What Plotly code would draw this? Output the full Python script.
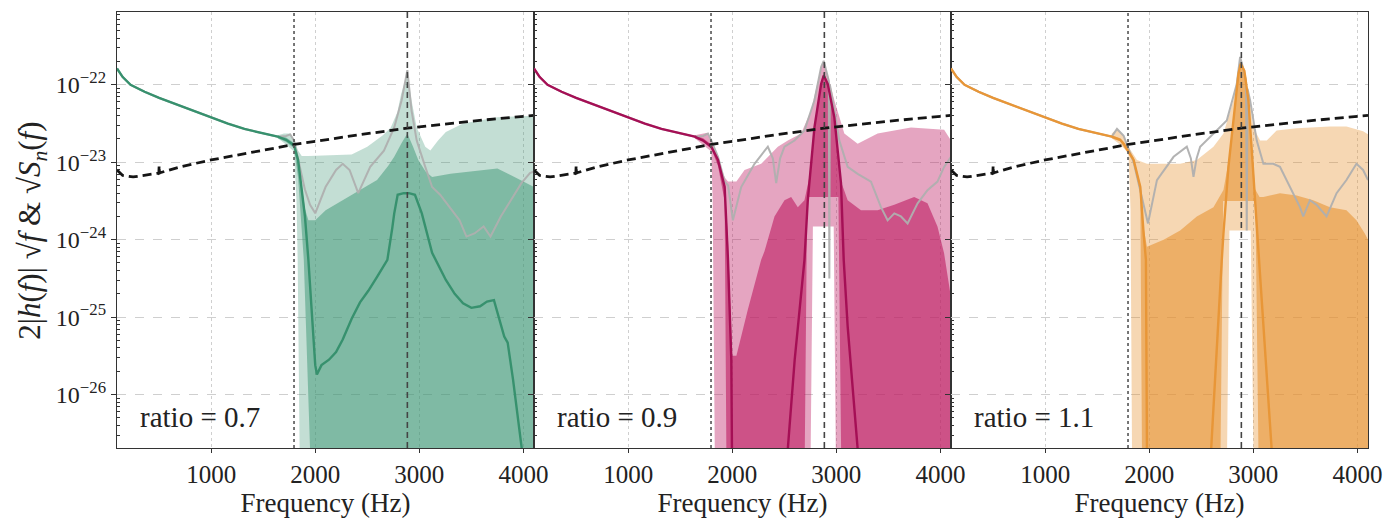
import numpy as np
import plotly.graph_objects as go
from plotly.subplots import make_subplots

# ---------------- data (log10 of amplitude) ----------------
x_ticks = [1000, 2000, 3000, 4000]
y_tick_exps = [-26, -25, -24, -23, -22]
ratio_labels = ["ratio = 0.7", "ratio = 0.9", "ratio = 1.1"]
f_low_marker = 1796
f_peak_marker = 2885

# detector noise curve sqrt(Sn)
noise_f = [95, 150, 250, 400, 490, 497, 500, 503, 510, 700, 1000, 1400, 1800, 2400, 2885, 3500, 4102]
noise_lg = [-23.10, -23.17, -23.19, -23.16, -23.14, -23.14, -23.04, -23.14, -23.135, -23.06,
            -22.97, -22.87, -22.77, -22.65, -22.56, -22.47, -22.395]

# shared low-frequency part of the signal curves
low_f = [95, 150, 225, 360, 500, 680, 850, 1000, 1160, 1320, 1480, 1640]
low_lg = [-21.79, -21.90, -22.00, -22.09, -22.17, -22.26, -22.35, -22.42, -22.50, -22.57, -22.62, -22.67]

# ---- panel 1 (ratio 0.7, green)
g_line_f = [1720, 1796, 1835, 1901, 1934, 1970, 2000, 2016, 2060, 2132, 2200, 2264, 2350, 2430, 2510,
            2594, 2693, 2740, 2759, 2792, 2850, 2900, 2958, 3024, 3123, 3255, 3340, 3420, 3500, 3584,
            3650, 3717, 3770, 3816, 3849, 3900, 3981, 4030, 4102]
g_line_lg = [-22.71, -22.78, -22.97, -23.70, -24.26, -25.00, -25.62, -25.74, -25.62, -25.55, -25.45,
             -25.29, -25.02, -24.81, -24.66, -24.48, -24.26, -23.85, -23.66, -23.42, -23.40, -23.40,
             -23.42, -23.66, -24.17, -24.52, -24.70, -24.82, -24.88, -24.86, -24.80, -24.78, -25.05,
             -25.25, -25.33, -25.80, -26.66, -27.20, -27.90]
g_dark_up_f = [1640, 1720, 1796, 1835, 1870, 1901, 1934, 2000, 2100, 2264, 2430, 2594, 2700, 2759, 2830,
               2885, 2940, 2990, 3060, 3123, 3300, 3500, 3750, 3900, 4102]
g_dark_up_lg = [-22.65, -22.68, -22.75, -22.92, -23.30, -23.60, -23.75, -23.75, -23.62, -23.49, -23.36,
                -23.23, -23.05, -22.93, -22.75, -22.63, -22.80, -22.97, -23.12, -23.19, -23.15, -23.12,
                -23.08, -23.18, -23.32]
g_dark_lo_f = [1640, 1720, 1796, 1835, 1890, 1950, 1965, 4102]
g_dark_lo_lg = [-22.69, -22.74, -22.82, -23.20, -24.26, -26.70, -28.0, -28.0]
g_light_up_f = [1640, 1700, 1760, 1796, 1835, 1870, 1934, 2100, 2350, 2500, 2650, 2726, 2790, 2825, 2885,
                2925, 2975, 3057, 3106, 3180, 3255, 3420, 3750, 4102]
g_light_up_lg = [-22.65, -22.63, -22.63, -22.70, -22.85, -22.92, -22.92, -22.91, -22.90, -22.80, -22.65,
                 -22.55, -22.35, -22.12, -21.85, -22.20, -22.55, -22.80, -22.85, -22.72, -22.61, -22.50,
                 -22.42, -22.40]
g_light_lo_f = [1640, 1720, 1796, 1820, 1831, 1851, 1860, 4102]
g_light_lo_lg = [-22.69, -22.77, -22.86, -23.50, -24.26, -26.70, -28.0, -28.0]
g_gray_f = [1720, 1760, 1796, 1835, 1900, 1950, 2000, 2099, 2200, 2264, 2330, 2413, 2528, 2660, 2759,
            2830, 2885, 2925, 2975, 3057, 3123, 3200, 3300, 3387, 3453, 3530, 3618, 3684, 3783, 3882,
            3981, 4063, 4102]
g_gray_lg = [-22.66, -22.64, -22.72, -22.95, -23.35, -23.55, -23.66, -23.32, -23.10, -23.02, -23.10,
             -23.40, -23.06, -22.85, -22.55, -22.20, -21.81, -22.33, -22.72, -23.06, -23.32, -23.42,
             -23.60, -23.75, -23.96, -23.92, -23.83, -23.96, -23.70, -23.49, -23.27, -23.14, -23.12]

# ---- panel 2 (ratio 0.9, magenta)
p_line_f = [1720, 1799, 1863, 1927, 1959, 1991, 1997, 2020, 2520, 2534, 2600, 2694, 2726, 2790, 2854,
            2879, 2918, 2981, 3045, 3071, 3109, 3205, 3220, 4102]
p_line_lg = [-22.72, -22.80, -22.97, -23.32, -24.26, -25.55, -26.70, -28.0, -28.0, -26.70, -25.55,
             -24.26, -23.49, -22.55, -21.99, -21.88, -21.99, -22.42, -23.27, -24.26, -25.12, -26.70,
             -28.0, -28.0]
p_dark_up_f = [1640, 1720, 1799, 1863, 1927, 1959, 1985, 2000, 2040, 2150, 2278, 2310, 2406, 2502, 2566,
               2630, 2694, 2740, 2790, 2854, 2879, 2918, 2981, 3013, 3045, 3109, 3237, 3397, 3557, 3748,
               3876, 3972, 4036, 4102]
p_dark_up_lg = [-22.65, -22.69, -22.77, -22.93, -23.25, -24.00, -25.00, -25.50, -25.50, -24.90, -24.26,
                -24.15, -23.70, -23.49, -23.45, -23.58, -23.49, -23.20, -22.55, -21.97, -21.84, -21.97,
                -22.40, -22.90, -23.25, -23.49, -23.62, -23.62, -23.55, -23.45, -23.53, -23.83, -24.18,
                -24.75]
p_dark_lo_f = [1640, 1720, 1799, 1863, 1927, 1943, 1950, 2688, 2694, 2720, 3020, 3046, 3052, 4102]
p_dark_lo_lg = [-22.69, -22.73, -22.83, -23.05, -23.50, -26.70, -28.0, -28.0, -26.7, -23.45, -23.45,
                -26.7, -28.0, -28.0]
p_light_up_f = [1640, 1720, 1760, 1799, 1840, 1880, 1930, 1959, 2040, 2118, 2278, 2438, 2534, 2662, 2758,
                2854, 2879, 2918, 2981, 3077, 3205, 3300, 3397, 3717, 4036, 4102]
p_light_up_lg = [-22.65, -22.63, -22.62, -22.74, -22.90, -23.05, -23.20, -23.25, -23.25, -23.10, -23.02,
                 -22.80, -22.72, -22.63, -22.33, -21.77, -21.71, -21.87, -22.20, -22.63, -22.76, -22.70,
                 -22.63, -22.55, -22.58, -22.72]
p_light_lo_f = [1640, 1720, 1799, 1812, 1818, 1831, 1840, 2744, 2751, 2775, 2975, 2997, 3004, 4102]
p_light_lo_lg = [-22.69, -22.77, -22.86, -23.50, -24.26, -26.70, -28.0, -28.0, -26.7, -23.83, -23.83,
                 -26.7, -28.0, -28.0]
p_gray_f = [1720, 1767, 1799, 1863, 1927, 1960, 2006, 2086, 2214, 2342, 2390, 2422, 2460, 2502, 2598,
            2694, 2790, 2854, 2879, 2918, 2928, 2933, 2938, 2965, 3029, 3109, 3205, 3333, 3429, 3493,
            3557, 3621, 3685, 3781, 3876, 3972, 4036, 4102]
p_gray_lg = [-22.66, -22.63, -22.72, -22.93, -23.25, -23.30, -23.75, -23.32, -23.02, -22.80, -22.95,
             -23.27, -22.95, -22.80, -22.72, -22.59, -22.20, -21.77, -21.69, -21.87, -21.95, -24.50,
             -22.00, -22.20, -22.72, -23.06, -23.15, -23.25, -23.58, -23.75, -23.66, -23.70, -23.79,
             -23.53, -23.36, -23.25, -23.06, -22.93]

# ---- panel 3 (ratio 1.1, orange)
o_line_f = [1720, 1754, 1850, 1914, 1946, 1968, 1978, 1990, 2585, 2595, 2697, 2713, 2761, 2809, 2857,
            2879, 2914, 2953, 2985, 3017, 3055, 3176, 3190, 4102]
o_line_lg = [-22.71, -22.76, -22.97, -23.32, -23.92, -24.26, -26.70, -28.0, -28.0, -26.70, -24.26,
             -23.92, -23.06, -22.42, -21.86, -21.73, -21.82, -22.20, -22.85, -23.58, -24.26, -26.70,
             -28.0, -28.0]
o_dark_up_f = [1640, 1720, 1754, 1850, 1914, 1946, 1978, 2138, 2297, 2457, 2617, 2713, 2761, 2809, 2857,
               2879, 2914, 2953, 2985, 3017, 3060, 3097, 3256, 3416, 3576, 3736, 3895, 3991, 4071, 4102]
o_dark_up_lg = [-22.65, -22.69, -22.74, -22.94, -23.28, -23.85, -24.09, -24.00, -23.88, -23.70, -23.58,
                -23.36, -23.00, -22.40, -21.84, -21.71, -21.80, -22.18, -22.80, -23.35, -23.45, -23.45,
                -23.40, -23.43, -23.49, -23.58, -23.62, -23.75, -23.92, -24.00]
o_dark_lo_f = [1640, 1720, 1850, 1914, 1930, 1936, 2675, 2681, 2710, 3020, 3049, 3055, 4102]
o_dark_lo_lg = [-22.69, -22.73, -23.00, -23.40, -26.70, -28.0, -28.0, -26.7, -23.50, -23.50, -26.7,
                -28.0, -28.0]
o_light_up_f = [1640, 1690, 1754, 1800, 1882, 1978, 2138, 2297, 2457, 2617, 2713, 2809, 2857, 2879, 2937,
                3001, 3065, 3129, 3224, 3416, 3736, 3895, 4055, 4102]
o_light_up_lg = [-22.63, -22.57, -22.66, -22.80, -22.97, -23.02, -23.02, -23.02, -22.97, -22.80, -22.63,
                 -22.20, -21.77, -21.64, -21.99, -22.55, -22.72, -22.72, -22.59, -22.56, -22.54, -22.54,
                 -22.60, -22.64]
o_light_lo_f = [1640, 1720, 1800, 1820, 1834, 1840, 2738, 2745, 2770, 2975, 3001, 3008, 4102]
o_light_lo_lg = [-22.69, -22.77, -22.88, -23.60, -26.70, -28.0, -28.0, -26.7, -23.88, -23.88, -26.7,
                 -28.0, -28.0]
o_gray_f = [1690, 1754, 1850, 1930, 1988, 2074, 2234, 2361, 2400, 2425, 2455, 2489, 2617, 2745, 2841,
            2873, 2905, 2930, 2937, 2944, 2969, 3033, 3097, 3192, 3256, 3352, 3448, 3480, 3544, 3608,
            3704, 3800, 3895, 3991, 4055, 4102]
o_gray_lg = [-22.57, -22.66, -23.00, -23.45, -23.79, -23.23, -22.93, -22.80, -22.95, -23.19, -22.95,
             -22.80, -22.63, -22.46, -21.99, -21.64, -21.80, -21.95, -23.88, -22.05, -22.20, -22.72,
             -23.02, -23.02, -23.06, -23.32, -23.58, -23.70, -23.49, -23.55, -23.70, -23.40, -23.23,
             -23.02, -23.10, -23.23]

# ---------------- styling ----------------
FONT = "Liberation Serif"
panels = [
    dict(line_f=g_line_f, line=g_line_lg, du_f=g_dark_up_f, du=g_dark_up_lg, dl_f=g_dark_lo_f, dl=g_dark_lo_lg,
         lu_f=g_light_up_f, lu=g_light_up_lg, ll_f=g_light_lo_f, ll=g_light_lo_lg, gr_f=g_gray_f, gr=g_gray_lg,
         line_col="rgb(55,145,110)", light="rgba(60,150,115,0.31)", dark="rgba(60,150,115,0.50)"),
    dict(line_f=p_line_f, line=p_line_lg, du_f=p_dark_up_f, du=p_dark_up_lg, dl_f=p_dark_lo_f, dl=p_dark_lo_lg,
         lu_f=p_light_up_f, lu=p_light_up_lg, ll_f=p_light_lo_f, ll=p_light_lo_lg, gr_f=p_gray_f, gr=p_gray_lg,
         line_col="rgb(165,15,85)", light="rgba(190,30,100,0.40)", dark="rgba(190,30,100,0.62)"),
    dict(line_f=o_line_f, line=o_line_lg, du_f=o_dark_up_f, du=o_dark_up_lg, dl_f=o_dark_lo_f, dl=o_dark_lo_lg,
         lu_f=o_light_up_f, lu=o_light_up_lg, ll_f=o_light_lo_f, ll=o_light_lo_lg, gr_f=o_gray_f, gr=o_gray_lg,
         line_col="rgb(232,150,55)", light="rgba(230,145,45,0.36)", dark="rgba(230,145,45,0.57)"),
]


def amp(lg):
    return list(10.0 ** np.array(lg, dtype=float))


fig = make_subplots(rows=1, cols=3, horizontal_spacing=0)

for i, p in enumerate(panels, start=1):
    # light band
    fig.add_trace(go.Scatter(x=p["lu_f"] + p["ll_f"][::-1], y=amp(p["lu"] + p["ll"][::-1]),
                             fill="toself", fillcolor=p["light"], mode="lines", line=dict(width=0),
                             hoverinfo="skip", showlegend=False), row=1, col=i)
    # dark band
    fig.add_trace(go.Scatter(x=p["du_f"] + p["dl_f"][::-1], y=amp(p["du"] + p["dl"][::-1]),
                             fill="toself", fillcolor=p["dark"], mode="lines", line=dict(width=0),
                             hoverinfo="skip", showlegend=False), row=1, col=i)
    # gray curve
    fig.add_trace(go.Scatter(x=low_f + p["gr_f"], y=amp(low_lg + p["gr"]), mode="lines",
                             line=dict(color="rgba(175,175,175,0.95)", width=2), showlegend=False), row=1, col=i)
    # coloured curve
    fig.add_trace(go.Scatter(x=low_f + p["line_f"], y=amp(low_lg + p["line"]), mode="lines",
                             line=dict(color=p["line_col"], width=2.4), showlegend=False), row=1, col=i)
    # noise curve
    fig.add_trace(go.Scatter(x=noise_f, y=amp(noise_lg), mode="lines",
                             line=dict(color="#151515", width=2.8, dash="9px,5px"), showlegend=False), row=1, col=i)

    xa = "x" if i == 1 else f"x{i}"
    ya = "y" if i == 1 else f"y{i}"
    fig.add_shape(type="line", xref=xa, yref=f"{ya} domain", x0=f_low_marker, x1=f_low_marker, y0=0, y1=1,
                  line=dict(color="#555", width=1.6, dash="dot"), layer="above")
    fig.add_shape(type="line", xref=xa, yref=f"{ya} domain", x0=f_peak_marker, x1=f_peak_marker, y0=0, y1=1,
                  line=dict(color="#444", width=1.6, dash="6px,4px"), layer="above")
    fig.add_annotation(xref=f"{xa} domain", yref=f"{ya} domain", x=0.05, y=0.072, xanchor="left",
                       yanchor="middle", text=ratio_labels[i - 1], showarrow=False,
                       font=dict(family=FONT, size=29, color="#222"))

minor_vals = [k * 10.0 ** e for e in range(-27, -20) for k in range(2, 10)]
domains = [[0, 1 / 3], [1 / 3, 2 / 3], [2 / 3, 1]]
for i in range(1, 4):
    fig.update_xaxes(row=1, col=i, domain=domains[i - 1], range=[95, 4102], tickvals=x_ticks,
                     ticktext=[str(v) for v in x_ticks], ticks="outside", ticklen=4, tickcolor="#333",
                     showline=True, linecolor="#333", linewidth=1.2, mirror=True,
                     showgrid=True, gridcolor="#cfcfcf", griddash="dot", gridwidth=1,
                     zeroline=False, tickfont=dict(family=FONT, size=25, color="#222"),
                     title=dict(text="Frequency (Hz)", font=dict(family=FONT, size=27, color="#222"), standoff=4))
    fig.update_yaxes(row=1, col=i, type="log", range=[-26.69, -21.06],
                     tickvals=[10.0 ** e for e in y_tick_exps],
                     ticktext=[f"10<sup>\u2212{-e}</sup>" for e in y_tick_exps],
                     showticklabels=(i == 1), ticks="outside", ticklen=5, tickcolor="#333",
                     minor=dict(tickvals=minor_vals, ticks="inside", ticklen=3, tickcolor="#333", showgrid=False),
                     showline=True, linecolor="#333", linewidth=1.2, mirror=True,
                     showgrid=True, gridcolor="#cfcfcf", griddash="dash", gridwidth=1,
                     zeroline=False, tickfont=dict(family=FONT, size=24, color="#222"))

fig.add_annotation(xref="paper", yref="paper", x=-0.068, y=0.498, xanchor="center", yanchor="middle",
                   textangle=-90, showarrow=False,
                   text="2|<i>h</i>(<i>f</i>)| \u221a<i>f</i> &amp; \u221a<i>S<sub>n</sub></i>(<i>f</i>)",
                   font=dict(family=FONT, size=31, color="#222"))

fig.update_layout(width=1393, height=522, margin=dict(l=117, r=21, t=11, b=73),
                  paper_bgcolor="white", plot_bgcolor="white", showlegend=False)

fig.write_html("out.html")
